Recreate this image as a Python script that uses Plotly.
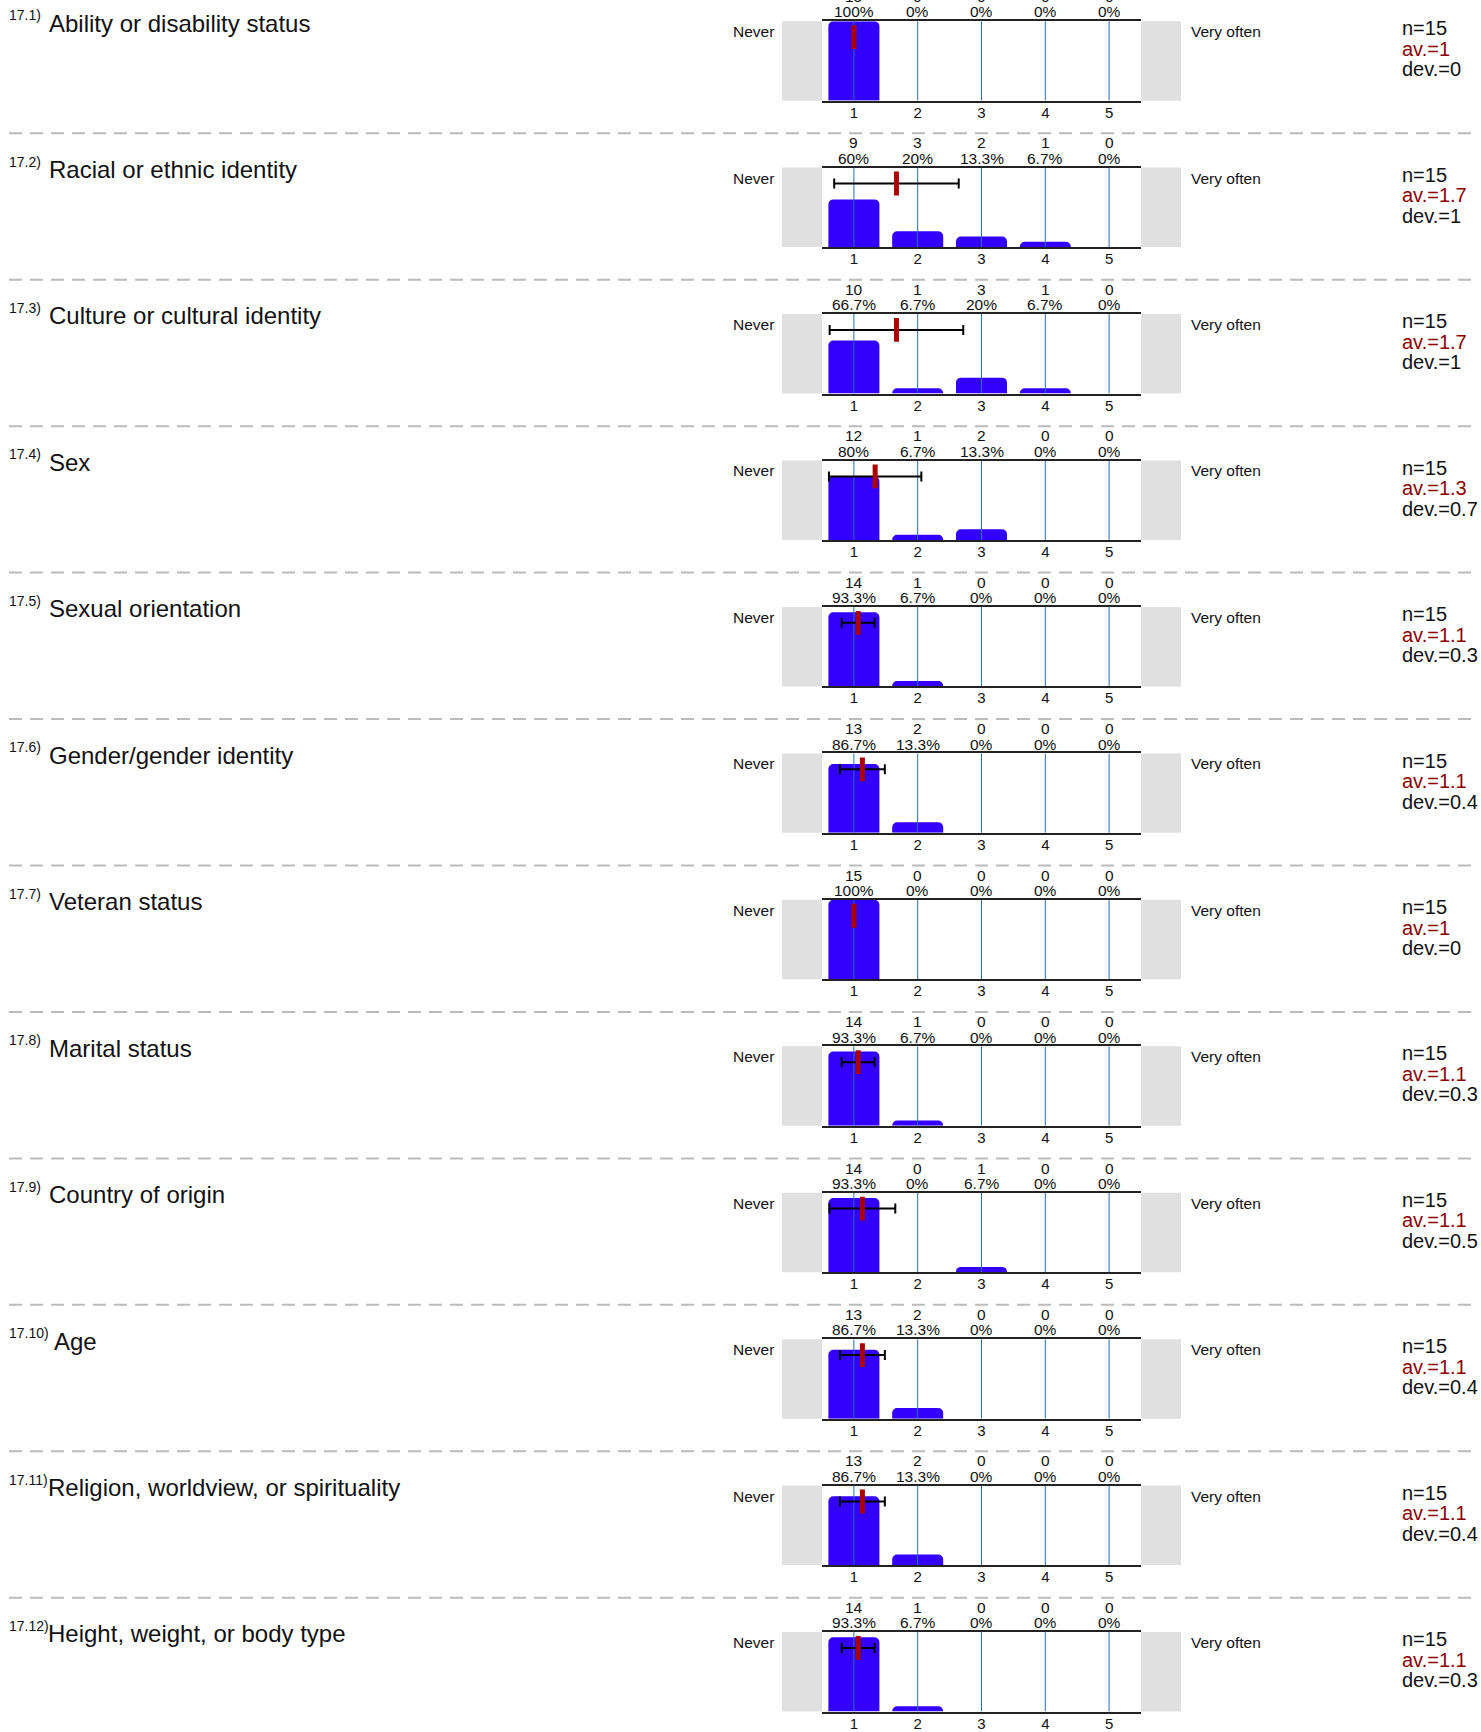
import plotly.graph_objects as go

# ---------------- data ----------------
codes = ["17.1)", "17.2)", "17.3)", "17.4)", "17.5)", "17.6)",
         "17.7)", "17.8)", "17.9)", "17.10)", "17.11)", "17.12)"]
items = ["Ability or disability status", "Racial or ethnic identity",
         "Culture or cultural identity", "Sex", "Sexual orientation",
         "Gender/gender identity", "Veteran status", "Marital status",
         "Country of origin", "Age", "Religion, worldview, or spirituality",
         "Height, weight, or body type"]
categories = [1, 2, 3, 4, 5]
counts = [
    [15, 0, 0, 0, 0],
    [9, 3, 2, 1, 0],
    [10, 1, 3, 1, 0],
    [12, 1, 2, 0, 0],
    [14, 1, 0, 0, 0],
    [13, 2, 0, 0, 0],
    [15, 0, 0, 0, 0],
    [14, 1, 0, 0, 0],
    [14, 0, 1, 0, 0],
    [13, 2, 0, 0, 0],
    [13, 2, 0, 0, 0],
    [14, 1, 0, 0, 0],
]
n_values = [15] * 12
means = [1.0, 1.667, 1.667, 1.333, 1.067, 1.133, 1.0, 1.067, 1.133, 1.133, 1.133, 1.067]
devs = [0.0, 0.976, 1.047, 0.724, 0.258, 0.352, 0.0, 0.258, 0.516, 0.352, 0.352, 0.258]
left_label = "Never"
right_label = "Very often"

# ---------------- geometry (pixels) ----------------
W, H = 1481, 1732
ROW0_TOP = 21.2
PITCH = 146.7
PLOT_H = 79.6
X_LEFT, X_RIGHT = 822, 1141
GRAY_W = 40
FONT = "Liberation Sans, Arial, sans-serif"


def yp(px):
    return 1 - px / H


def xp(px):
    return px / W


def fmt(v):
    return f"{round(v, 1):g}"


def base_anchor(baseline, fs):
    # y (paper) of box bottom such that the text baseline sits at `baseline` px
    return yp(baseline + 0.212 * fs)


fig = go.Figure()
layout = dict(width=W, height=H, margin=dict(l=0, r=0, t=0, b=0),
              paper_bgcolor="white", plot_bgcolor="white", showlegend=False,
              font=dict(family=FONT, color="#111"))
shapes, annotations = [], []

for i in range(12):
    T = ROW0_TOP + i * PITCH
    B = T + PLOT_H
    sfx = "" if i == 0 else str(i + 1)
    xa, ya = "x" + sfx, "y" + sfx
    layout["xaxis" + sfx] = dict(
        domain=[xp(X_LEFT), xp(X_RIGHT)], range=[0.5, 5.5], anchor=ya,
        tickvals=categories, ticktext=[str(c) for c in categories],
        showgrid=False, zeroline=False, showline=True, mirror=True,
        linecolor="#222", linewidth=2, ticks="", ticklabelstandoff=-3,
        tickfont=dict(size=15, color="#111", family=FONT), fixedrange=True)
    layout["yaxis" + sfx] = dict(domain=[yp(B), yp(T)], range=[0, 100],
                                 anchor=xa, visible=False, fixedrange=True)

    total = sum(counts[i])
    pcts = [c / total * 100 for c in counts[i]]
    fig.add_trace(go.Bar(x=categories, y=pcts, width=0.8, xaxis=xa, yaxis=ya,
                         marker=dict(color="#3300ff", cornerradius=5, line=dict(width=0)),
                         hoverinfo="skip"))
    gx, gy = [], []
    for c in categories:
        gx += [c, c, None]
        gy += [0, 100, None]
    fig.add_trace(go.Scatter(x=gx, y=gy, mode="lines", xaxis=xa, yaxis=ya,
                             line=dict(color="#2a6db0", width=1), hoverinfo="skip"))
    if devs[i] > 0:
        fig.add_trace(go.Scatter(x=[means[i]], y=[80], mode="markers", xaxis=xa, yaxis=ya,
                                 marker=dict(size=1, opacity=0),
                                 error_x=dict(type="data", array=[devs[i]], color="black",
                                              thickness=2, width=5),
                                 hoverinfo="skip"))
    fig.add_trace(go.Scatter(x=[means[i]], y=[80], mode="markers", xaxis=xa, yaxis=ya,
                             marker=dict(symbol="line-ns", size=17,
                                         line=dict(width=5, color="#aa0000")),
                             hoverinfo="skip"))

    # gray side boxes
    for x0, x1 in [(X_LEFT - GRAY_W, X_LEFT), (X_RIGHT, X_RIGHT + GRAY_W)]:
        shapes.append(dict(type="rect", xref="paper", yref="paper",
                           x0=xp(x0), x1=xp(x1), y0=yp(B), y1=yp(T),
                           fillcolor="#e0e0e0", line=dict(width=0), layer="below"))
    # separators
    if i < 11:
        ysep = yp(T + 112.3)
        shapes.append(dict(type="line", xref="paper", yref="paper",
                           x0=xp(9), x1=xp(1474), y0=ysep, y1=ysep,
                           line=dict(color="#bbbbbb", width=2, dash="13px,8px")))

    def ann(text, x, xref, baseline, fs, color="#111", xanchor="center"):
        annotations.append(dict(text=text, x=x, xref=xref, y=base_anchor(baseline, fs),
                                yref="paper", yanchor="bottom", xanchor=xanchor,
                                showarrow=False, borderpad=0, borderwidth=0,
                                font=dict(size=fs, color=color, family=FONT)))

    # counts / percentages above bars
    for c, cnt, p in zip(categories, counts[i], pcts):
        ann(str(cnt), c, xa, T - 19.5, 15.5)
        ann(fmt(p) + "%", c, xa, T - 4, 15.5)

    # side labels
    ann(left_label, xp(774), "paper", T + 15.7, 15.5, xanchor="right")
    ann(right_label, xp(1191), "paper", T + 15.7, 15.5, xanchor="left")

    # statistics
    ann(f"n={n_values[i]}", xp(1401.5), "paper", T + 14, 20, xanchor="left")
    ann(f"av.={fmt(means[i])}", xp(1401.5), "paper", T + 34.5, 20, color="#8b0000", xanchor="left")
    ann(f"dev.={fmt(devs[i])}", xp(1401.5), "paper", T + 55, 20, xanchor="left")

    # item labels
    ann(codes[i], xp(9), "paper", T - 1, 14, xanchor="left")
    main_x = 49 if i < 9 else (54 if i == 9 else 48)
    ann(items[i], xp(main_x), "paper", T + 10.3, 24, xanchor="left")

layout["shapes"] = shapes
layout["annotations"] = annotations
fig.update_layout(**layout)

fig.write_html("out.html", config={"displayModeBar": False},
               post_script="document.body.style.margin='0px';")
